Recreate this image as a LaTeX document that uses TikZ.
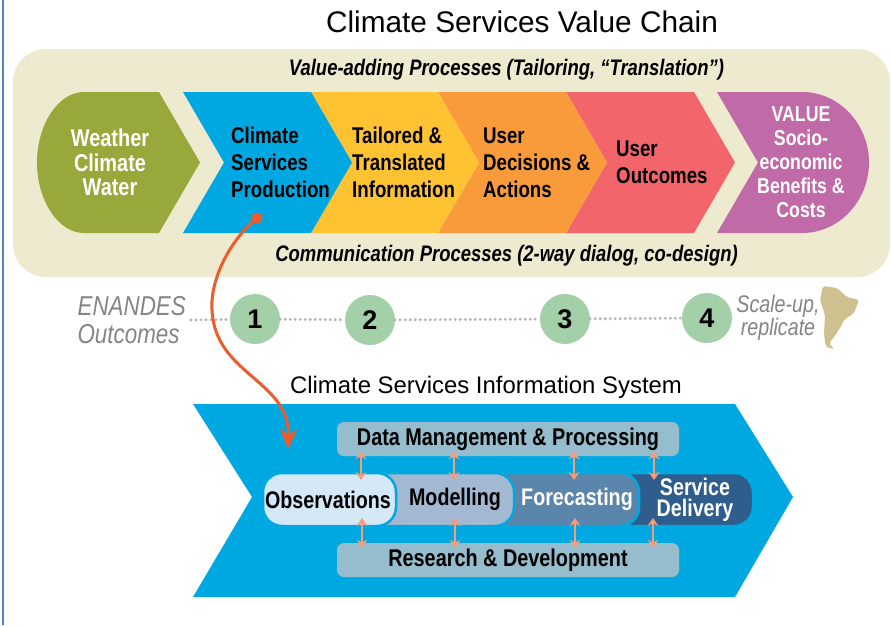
\documentclass[tikz,border=0pt]{standalone}
\usepackage{fontspec}
\setmainfont{Liberation Sans}
\newfontfamily\nar[FakeStretch=0.82]{Liberation Sans}
\usetikzlibrary{arrows.meta,calc}
\definecolor{bgc}{HTML}{EDEACF}
\definecolor{olivec}{HTML}{98A83B}
\definecolor{bluec}{HTML}{00A8E1}
\definecolor{yelc}{HTML}{FFC233}
\definecolor{orac}{HTML}{F99B3A}
\definecolor{redc}{HTML}{F2666B}
\definecolor{purc}{HTML}{C06AA8}
\definecolor{boxc}{HTML}{95BDCD}
\definecolor{obsc}{HTML}{D5E8F8}
\definecolor{modc}{HTML}{A3B8D2}
\definecolor{forc}{HTML}{5B86AB}
\definecolor{serc}{HTML}{2F5D8C}
\definecolor{curvec}{HTML}{EE5B2C}
\definecolor{salmon}{HTML}{F79B79}
\definecolor{circc}{HTML}{A3CFA9}
\definecolor{greyt}{HTML}{858585}
\definecolor{dotc}{HTML}{B5B5B5}
\definecolor{samc}{HTML}{CFC08F}
\definecolor{edgec}{HTML}{4A86C8}
\tikzset{
  chain/.style={inner sep=0pt,align=left,font=\nar\bfseries\fontsize{22.8}{27}\selectfont},
  chainw/.style={inner sep=0pt,align=center,text=white,font=\nar\bfseries\fontsize{24.3}{24.5}\selectfont},
  band/.style={inner sep=0pt,font=\nar\bfseries\itshape\fontsize{22.5}{25}\selectfont},
  num/.style={circle,fill=circc,minimum size=50pt,inner sep=0pt,font=\bfseries\fontsize{27}{30}\selectfont},
  greyl/.style={inner sep=0pt,text=greyt,font=\nar\itshape\fontsize{27.3}{28}\selectfont},
  sysbox/.style={fill=boxc,rounded corners=7pt,minimum width=342pt,minimum height=34pt,inner sep=0pt,font=\nar\bfseries\fontsize{24.2}{24}\selectfont},
  pill/.style={draw=bluec,line width=2.5pt,rounded corners=19pt},
  pilltext/.style={inner sep=0pt,align=center,font=\nar\bfseries\fontsize{24}{21}\selectfont},
  biarrow/.style={draw=salmon,line width=2.6pt,{Stealth[length=8pt,width=11pt]}-{Stealth[length=8pt,width=11pt]}},
  dotline/.style={draw=dotc,line width=3.2pt,line cap=round,dash pattern=on 0pt off 5pt},
}
\begin{document}
\begin{tikzpicture}[x=1pt,y=-1pt]
\useasboundingbox (0,0) rectangle (892,625);
\fill[white] (0,0) rectangle (892,625);
\draw[edgec,line width=1.2pt] (3,0) -- (3,625);
\node[inner sep=0pt,font=\fontsize{29.8}{32}\selectfont] (title) at (522,22) {Climate Services Value Chain};
\fill[bgc,rounded corners=33pt] (13,49) rectangle (890,277);
\node[band] (vap) at (506.5,69.5) {Value-adding Processes (Tailoring, “Translation”)};
\node[band] (comm) at (506.5,255.5) {Communication Processes (2-way dialog, co-design)};
% chain
\fill[olivec] (159,92) -- (200,162.5) -- (159,233) -- (84,233) .. controls (58,233) and (37,200) .. (37,162.5) .. controls (37,125) and (58,92) .. (84,92) -- cycle;
\fill[purc] (717,92) -- (758,162.5) -- (717,233) -- (802,233) .. controls (840,233) and (869,200) .. (869,162.5) .. controls (869,125) and (840,92) .. (802,92) -- cycle;
\fill[redc] (566,92) -- (694,92) -- (735,162.5) -- (694,233) -- (566,233) -- (607,162.5) -- cycle;
\fill[orac] (438,92) -- (566,92) -- (607,162.5) -- (566,233) -- (438,233) -- (479,162.5) -- cycle;
\fill[yelc] (311,92) -- (438,92) -- (479,162.5) -- (438,233) -- (311,233) -- (352,162.5) -- cycle;
\fill[bluec] (183,92) -- (311,92) -- (352,162.5) -- (311,233) -- (183,233) -- (224,162.5) -- cycle;
\node[chainw] (wcw) at (110,162.5) {Weather\\Climate\\Water};
\node[chain,anchor=west] (csp) at (231,162.5) {Climate\\Services\\Production};
\node[chain,anchor=west] (tti) at (352,162.5) {Tailored \&\\Translated\\Information};
\node[chain,anchor=west] (uda) at (483,162.5) {User\\Decisions \&\\Actions};
\node[chain,anchor=west] (uo) at (616,162.5) {User\\Outcomes};
\node[chainw,font=\nar\bfseries\fontsize{21.6}{24}\selectfont] (val) at (801,162.5) {VALUE\\Socio-\\economic\\Benefits \&\\Costs};
% outcomes row
\node[greyl,align=left,anchor=east] (ena) at (186,320) {ENANDES\\Outcomes};
\node[num] (c1) at (255,319) {1};
\node[num] (c2) at (370,320) {2};
\node[num] (c3) at (565,319) {3};
\node[num] (c4) at (707,318) {4};
\draw[dotline] ([xshift=5pt]ena.east) -- (c1);
\draw[dotline] (c1) -- (c2);
\draw[dotline] (c2) -- (c3);
\draw[dotline] (c3) -- (c4);
\node[greyl,align=center,font=\nar\itshape\fontsize{24}{23}\selectfont] (scale) at (778,318) {Scale-up,\\replicate};
\fill[samc,rounded corners=2pt] (823,286) -- (837,288) -- (847,297) -- (859,300) -- (854,313) -- (844,320) -- (840,328) -- (834,337) -- (829,343) -- (834,349) -- (826,347) -- (824,335) -- (825,315) -- (820,300) -- cycle;
% system
\node[inner sep=0pt,font=\fontsize{23.9}{26}\selectfont] (sys) at (486,387) {Climate Services Information System};
\fill[bluec] (193,404) -- (735,404) -- (793,497) -- (735,597) -- (193,597) -- (252,497) -- cycle;
\node[sysbox] (data) at (508,439) {Data Management \& Processing};
\node[sysbox] (rd) at (508,560) {Research \& Development};
\filldraw[pill,fill=serc] (600,473) rectangle (753,526);
\filldraw[pill,fill=forc] (480,473) rectangle (639,526);
\filldraw[pill,fill=modc] (360,473) rectangle (514,526);
\filldraw[pill,fill=obsc] (263,473) rectangle (396,526);
\node[pilltext] (obs) at (328,499.5) {Observations};
\node[pilltext] (mod) at (455,499.5) {Modelling};
\node[pilltext,text=white] (fore) at (577,499.5) {Forecasting};
\node[pilltext,text=white] (serv) at (695,499.5) {Service\\Delivery};
% two-way arrows
\foreach \tx/\bx in {361/362, 454/455, 574/575, 654/653}{
  \draw[biarrow] ([yshift=5pt]data.south -| \tx,0) -- (\tx,480);
  \draw[biarrow] (\bx,518) -- ([yshift=-5pt]rd.north -| \bx,0);
}
% orange link
\coordinate (linkend) at (288,449);
\fill[curvec] (257,218) circle (5.5pt);
\node[inner sep=0pt,minimum size=0pt] (dot) at (257,218) {};
\draw[curvec,line width=3pt,-{Stealth[length=20pt,width=17pt,inset=6pt]}] (dot) .. controls (225,245) and (210,285) .. (212,310) .. controls (215,375) and (290,380) .. (linkend);
\end{tikzpicture}
\end{document}
